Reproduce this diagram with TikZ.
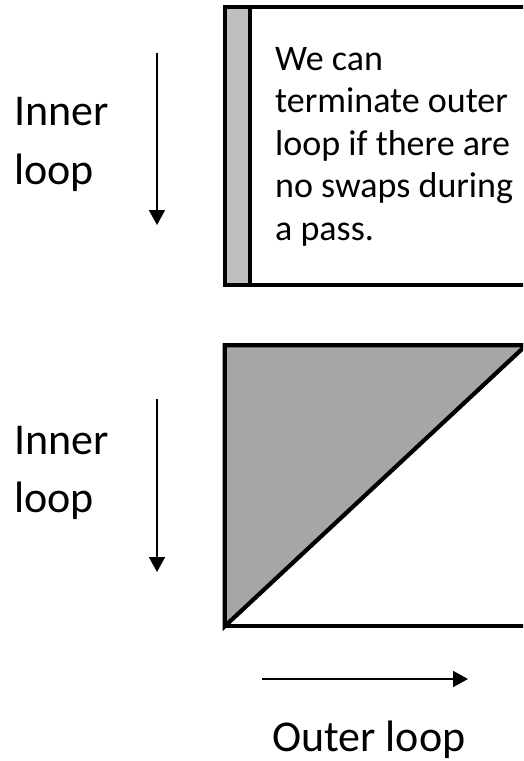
\documentclass[tikz,border=0pt]{standalone}
\usepackage{fontspec}
\setmainfont{Carlito}
\usetikzlibrary{arrows.meta}
\definecolor{stripgrey}{HTML}{BFBFBF}
\definecolor{trigrey}{HTML}{A6A6A6}
\tikzset{
  thickline/.style={line width=4.2pt, line join=miter},
  looparrow/.style={line width=1.8pt, -{Triangle[width=16pt,length=15pt]}},
  bigtext/.style={font=\fontsize{44}{59}\selectfont, inner sep=0pt, anchor=base west},
  boxtext/.style={font=\fontsize{36}{42.5}\selectfont, inner sep=0pt, anchor=base west},
}
\begin{document}
\begin{tikzpicture}[x=1pt,y=-1pt]
\useasboundingbox (0,0) rectangle (523,761);
\clip (0,0) rectangle (523,761);
\fill[white] (0,0) rectangle (523,761);
% top box
\draw[thickline, fill=stripgrey] (224.7,7) rectangle (249.8,285);
\draw[thickline] (249.8,7) -- (540,7);
\draw[thickline] (249.8,285) -- (540,285);
\node[boxtext] (l1) at (275,70) {We can};
\node[boxtext] (l2) at (275,112.5) {terminate outer};
\node[boxtext] (l3) at (275,155) {loop if there are};
\node[boxtext] (l4) at (275,197.5) {no swaps during};
\node[boxtext] (l5) at (275,240) {a pass.};
% top inner loop
\node[bigtext] (in1) at (14,125) {Inner};
\node[bigtext] (lp1) at (14,184) {loop};
\coordinate (a1s) at (157,53);
\coordinate (a1e) at (157,225);
\draw[looparrow] (a1s) -- (a1e);
% bottom square with triangle
\filldraw[thickline, fill=trigrey] (224.7,345.3) -- (526,345.3) -- (224.7,626.3) -- cycle;
\draw[thickline] (540,345.3) -- (224.7,345.3) -- (224.7,626.3) -- (540,626.3);
% bottom inner loop
\node[bigtext] (in2) at (14,454) {Inner};
\node[bigtext] (lp2) at (14,512) {loop};
\coordinate (a2s) at (157,399);
\coordinate (a2e) at (157,572);
\draw[looparrow] (a2s) -- (a2e);
% outer loop
\coordinate (a3s) at (262,679);
\coordinate (a3e) at (468,679);
\draw[looparrow] (a3s) -- (a3e);
\node[bigtext] (out) at (272,751) {Outer loop};
\end{tikzpicture}
\end{document}
